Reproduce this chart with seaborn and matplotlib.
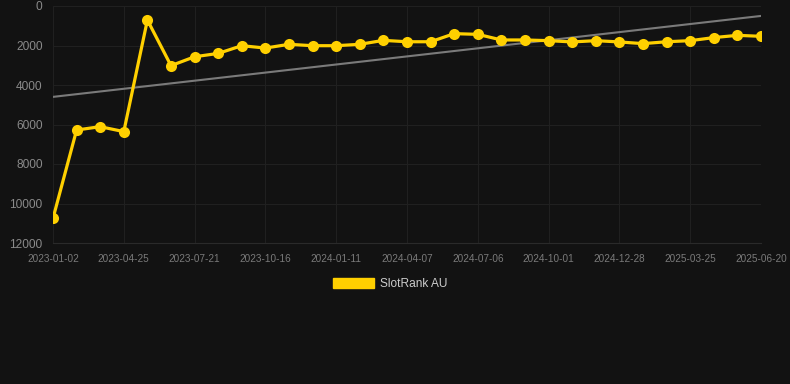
import matplotlib
matplotlib.use("Agg")
import matplotlib.pyplot as plt
import seaborn as sns
import numpy as np
import pandas as pd
from matplotlib.patches import Patch

# Data
tick_labels = ["2023-01-02", "2023-04-25", "2023-07-21", "2023-10-16", "2024-01-11",
               "2024-04-07", "2024-07-06", "2024-10-01", "2024-12-28", "2025-03-25",
               "2025-06-20"]
rank_values = [10750, 6280, 6110, 6360, 710, 3020, 2570, 2400, 2010, 2130,
               1940, 2010, 2010, 1940, 1740, 1810, 1810, 1400, 1435, 1720,
               1720, 1755, 1820, 1755, 1820, 1905, 1810, 1755, 1600, 1485, 1535]
series_name = "SlotRank AU"

idx = list(range(len(rank_values)))
df = pd.DataFrame({"idx": idx, "rank": rank_values})

BG = "#121212"
YELLOW = "#FFD000"
GRID = "#202020"

sns.set_theme(style="dark")
plt.rcParams["font.family"] = ["Liberation Sans", "DejaVu Sans"]

fig = plt.figure(figsize=(7.9, 3.84), dpi=100, facecolor=BG)
ax = fig.add_axes([53/790, 1-243/384, (761-53)/790, (243-6)/384])
ax.set_facecolor(BG)

sns.regplot(data=df, x="idx", y="rank", scatter=False, ci=None, ax=ax,
            line_kws=dict(color="#7a7a7a", linewidth=1.5, zorder=2))
sns.lineplot(data=df, x="idx", y="rank", ax=ax, color=YELLOW, linewidth=2.3,
             marker="o", markersize=8, markeredgewidth=0, zorder=3)

ax.set_xlim(0, len(rank_values)-1)
ax.set_ylim(12000, 0)
ax.set_yticks(np.arange(0, 12001, 2000))
ax.set_yticklabels([str(v) for v in range(0, 12001, 2000)])
ax.set_xticks(idx[::3])
ax.set_xticklabels(tick_labels)

ax.grid(True, color=GRID, linewidth=0.8)
ax.set_axisbelow(True)
for s in ax.spines.values():
    s.set_visible(False)
ax.spines["bottom"].set_visible(True)
ax.spines["bottom"].set_color("#2a2a2a")
ax.spines["bottom"].set_linewidth(0.8)
ax.tick_params(axis="y", colors="#8a8a8a", labelsize=8.6, length=0, pad=7.5)
ax.tick_params(axis="x", colors=GRID, labelcolor="#7a7a7a", labelsize=7.2,
               length=5, width=0.8, pad=3)
ax.set_xlabel("")
ax.set_ylabel("")

handle = Patch(facecolor=YELLOW, edgecolor=YELLOW)
leg = fig.legend([handle], [series_name], loc="center", bbox_to_anchor=(0.494, 1-284/384),
                 frameon=False, fontsize=8.6, handlelength=3.4, handleheight=1.0,
                 handletextpad=0.5)
for t in leg.get_texts():
    t.set_color("#cccccc")

fig.savefig("out.png", dpi=100, facecolor=BG)
